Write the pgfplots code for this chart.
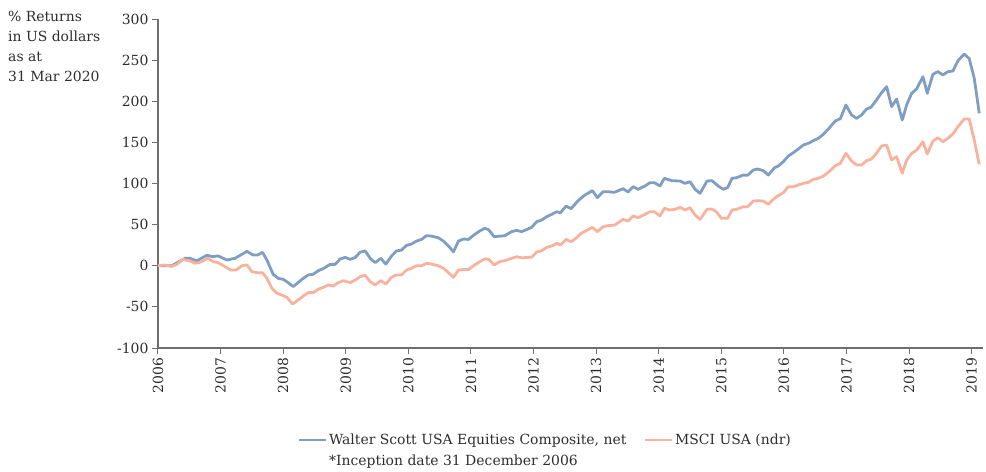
\documentclass[border=0pt]{standalone}
\usepackage{pgfplots}
\pgfplotsset{compat=1.18}
\usepackage{fontspec}
\setmainfont{DejaVu Serif}
\definecolor{wsblue}{RGB}{126,158,196}
\definecolor{msci}{RGB}{249,178,158}
\definecolor{txt}{RGB}{45,45,45}
\definecolor{axgray}{RGB}{110,110,110}
\begin{document}
\begin{tikzpicture}
\begin{axis}[
  name=ax,
  scale only axis,
  width=825bp, height=329bp,
  xmin=2006, xmax=2019.18,
  ymin=-100, ymax=300,
  xtick={2006,2007,...,2019},
  ytick={-100,-50,...,300},
  axis lines=left,
  axis line style={draw=axgray, line width=1.2bp, -},
  tick style={draw=axgray, line width=1bp},
  tick align=outside,
  major tick length=6bp,
  /pgf/number format/1000 sep={},
  /pgf/number format/assume math mode=true,
  tick label style={font=\fontsize{14}{17}\selectfont, text=txt},
  xticklabel style={rotate=90, anchor=east},
  clip=false,
  legend columns=2,
  legend cell align=left,
  legend image code/.code={\draw[#1, line width=2.8bp] (0bp,0bp) -- (27bp,0bp);},
  legend style={draw=none, fill=none, inner sep=0pt, font=\fontsize{14}{17}\selectfont, text=txt,
    at={(axis description cs:0.1685,-0.2796)}, anchor=west,
    /tikz/every even column/.append style={column sep=15bp}},
]
\addplot[wsblue, line width=2.8bp, line join=round] coordinates {
(2006.00,0) (2006.22,0) (2006.43,9) (2006.51,9) (2006.62,6) (2006.78,12.7) (2006.88,11) (2006.96,12)
(2007.10,7) (2007.23,9) (2007.42,17.5) (2007.52,13) (2007.59,13) (2007.67,16.3) (2007.74,7) (2007.84,-10.4)
(2007.92,-15.3) (2008.00,-16.5) (2008.08,-20.6) (2008.16,-25.4) (2008.30,-16.5) (2008.40,-11.2) (2008.48,-10.4)
(2008.56,-6) (2008.64,-3.5) (2008.75,1.7) (2008.83,1.7) (2008.91,8.2) (2008.99,10.2) (2009.07,7.8) (2009.15,10)
(2009.23,16.5) (2009.31,18) (2009.39,9) (2009.47,3.8) (2009.56,9) (2009.64,2) (2009.73,11.8) (2009.81,18)
(2009.89,19) (2009.97,24.8) (2010.05,26.4) (2010.13,30) (2010.21,32) (2010.29,36.6) (2010.37,36) (2010.48,34)
(2010.56,30) (2010.64,24) (2010.72,17) (2010.80,30) (2010.88,32.5) (2010.96,32) (2011.04,37) (2011.14,42.3)
(2011.22,45.5) (2011.28,44) (2011.37,35.3) (2011.46,36) (2011.54,36.5) (2011.65,41.5) (2011.73,43) (2011.81,41.5)
(2011.89,44) (2011.97,46.7) (2012.05,53.6) (2012.13,55.6) (2012.21,59.7) (2012.29,62.5) (2012.37,65.7) (2012.43,64.5)
(2012.52,72.6) (2012.60,69.4) (2012.71,79) (2012.82,86) (2012.94,91.3) (2013.02,82.8) (2013.11,90) (2013.19,90)
(2013.29,89.3) (2013.43,93.7) (2013.51,89.7) (2013.59,96.1) (2013.67,93) (2013.78,97) (2013.86,101) (2013.93,101)
(2014.02,97) (2014.09,106.3) (2014.21,103.4) (2014.34,103) (2014.42,100.2) (2014.50,102.2) (2014.58,93) (2014.66,88)
(2014.77,103) (2014.85,103.4) (2014.95,97) (2015.03,93) (2015.10,95) (2015.17,106.3) (2015.24,107) (2015.35,110.3)
(2015.42,110) (2015.51,116.4) (2015.58,117.6) (2015.67,115.6) (2015.75,110.3) (2015.85,119.2) (2015.91,121.3)
(2015.99,126.5) (2016.07,133.4) (2016.15,137.5) (2016.23,142) (2016.31,146.8) (2016.39,148.9) (2016.47,152)
(2016.55,155) (2016.63,159.8) (2016.71,166.3) (2016.82,176) (2016.90,178.8) (2016.99,195.4) (2017.08,183.3)
(2017.16,179.2) (2017.24,183.3) (2017.32,190.6) (2017.39,192.6) (2017.47,200.7) (2017.56,210.4) (2017.64,217.7)
(2017.72,193.4) (2017.80,202.7) (2017.89,177.2) (2017.96,195.4) (2018.04,209.7) (2018.12,215) (2018.22,229.9)
(2018.29,209.7) (2018.38,232.8) (2018.46,236) (2018.54,232) (2018.62,236) (2018.70,236.8) (2018.78,249.3)
(2018.88,257.4) (2018.96,251.8) (2019.04,227.9) (2019.12,185.3)
};
\addlegendentry{Walter Scott USA Equities Composite, net}
\addplot[msci, line width=2.8bp, line join=round] coordinates {
(2006.00,0) (2006.11,1) (2006.22,-1) (2006.30,1.7) (2006.40,7.8) (2006.51,5.8) (2006.59,3) (2006.67,4.2)
(2006.80,9) (2006.88,5) (2006.96,3.8) (2007.07,-1) (2007.16,-5.2) (2007.25,-5.2) (2007.34,0) (2007.42,1)
(2007.50,-7.2) (2007.58,-8.4) (2007.67,-8.4) (2007.74,-15.3) (2007.82,-27.5) (2007.90,-33.5) (2007.98,-35.6)
(2008.06,-38.4) (2008.15,-46.5) (2008.24,-41.6) (2008.32,-36.8) (2008.40,-32.7) (2008.48,-32.7) (2008.56,-28.6)
(2008.64,-26.2) (2008.72,-23.4) (2008.80,-24.6) (2008.88,-20.6) (2008.96,-18.1) (2009.07,-20.6) (2009.15,-17.3)
(2009.23,-13.3) (2009.31,-11.5) (2009.39,-19.4) (2009.47,-23.4) (2009.56,-18.1) (2009.64,-22.2) (2009.73,-14)
(2009.81,-11.2) (2009.89,-11.2) (2009.97,-5.2) (2010.05,-3.1) (2010.13,0) (2010.21,0) (2010.29,3) (2010.37,2)
(2010.48,0) (2010.56,-3) (2010.64,-8.4) (2010.72,-14) (2010.80,-5.2) (2010.88,-4.6) (2010.96,-4.6) (2011.04,0)
(2011.14,5) (2011.22,8.2) (2011.28,8) (2011.37,1) (2011.46,5) (2011.54,6.2) (2011.65,9) (2011.73,11) (2011.81,9.7)
(2011.89,10) (2011.97,10.5) (2012.05,16.7) (2012.13,18.3) (2012.21,22.4) (2012.29,24) (2012.37,27.3) (2012.43,25.2)
(2012.52,32.1) (2012.60,29.2) (2012.67,33) (2012.76,39.4) (2012.84,42.6) (2012.94,46.7) (2013.02,41.4) (2013.11,47.5)
(2013.19,48.7) (2013.30,49.5) (2013.43,56.4) (2013.51,54.4) (2013.59,60.5) (2013.67,58.5) (2013.78,62.5)
(2013.86,65.7) (2013.93,65.7) (2014.02,60.5) (2014.09,69.8) (2014.18,67.8) (2014.26,68.6) (2014.34,71) (2014.42,67.8)
(2014.50,70.6) (2014.58,61.7) (2014.66,56.4) (2014.77,68.6) (2014.85,69) (2014.92,65.7) (2015.00,57.7) (2015.10,57.7)
(2015.17,67.8) (2015.24,68.6) (2015.35,71.8) (2015.42,71.8) (2015.51,78.7) (2015.59,79) (2015.67,78.7) (2015.75,74.7)
(2015.82,80) (2015.88,84) (2015.99,88.8) (2016.07,96.1) (2016.15,96.1) (2016.23,98.2) (2016.31,100.2) (2016.39,101.4)
(2016.47,105) (2016.55,106.3) (2016.63,109.1) (2016.71,113.6) (2016.82,121.7) (2016.90,124.5) (2016.99,136.7)
(2017.08,127.4) (2017.16,122.5) (2017.24,122.5) (2017.32,127.8) (2017.39,129.4) (2017.47,135.9) (2017.56,145.6)
(2017.64,146.8) (2017.72,128.6) (2017.80,132.6) (2017.89,112.4) (2017.96,128.6) (2018.04,136.7) (2018.12,140.7)
(2018.22,150.8) (2018.29,135.9) (2018.38,151.7) (2018.46,155.7) (2018.54,150.8) (2018.62,155) (2018.70,160.2)
(2018.78,169.1) (2018.88,178.4) (2018.96,178.4) (2019.04,152.8) (2019.12,123.3)
};
\addlegendentry{MSCI USA (ndr)}
\end{axis}
\path ([xshift=-158bp,yshift=-124bp]ax.south west) rectangle ([xshift=828bp,yshift=348bp]ax.south west);
\node[anchor=north west, align=left, inner sep=0pt, text=txt, font=\fontsize{14}{20}\selectfont]
  at ([xshift=-150bp,yshift=337bp]ax.south west) {\% Returns\\in US dollars\\as at\\31 Mar 2020};
\node[anchor=west, inner sep=0pt, text=txt, font=\fontsize{14}{17}\selectfont]
  at ([xshift=171bp,yshift=-114bp]ax.south west) {*Inception date 31 December 2006};
\end{tikzpicture}
\end{document}
